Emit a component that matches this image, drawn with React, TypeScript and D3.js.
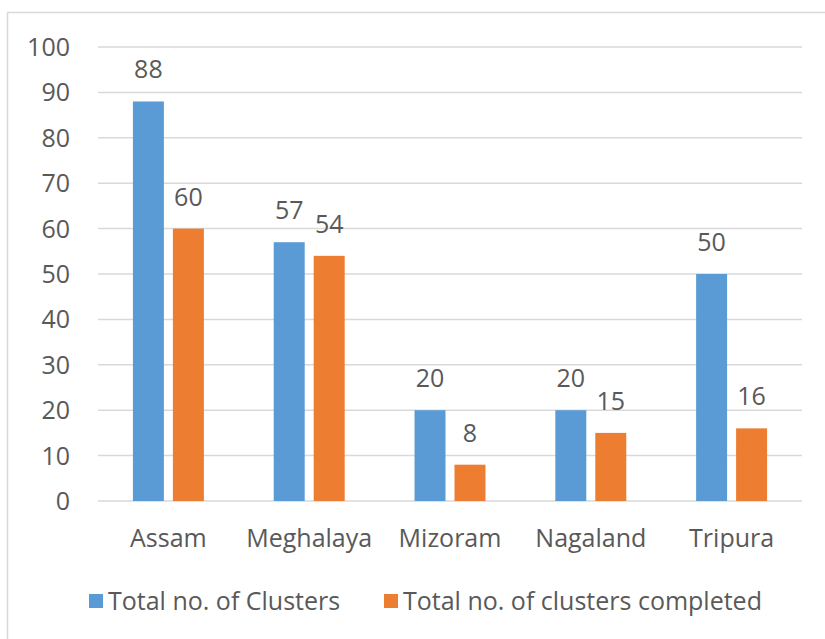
import React from "react";
import * as d3 from "d3";

const categories = ["Assam", "Meghalaya", "Mizoram", "Nagaland", "Tripura"];
const seriesNames = ["Total no. of Clusters", "Total no. of clusters completed"];
const totalClusters = [88, 57, 20, 20, 50];
const clustersCompleted = [60, 54, 8, 15, 16];
const yTicks = [0, 10, 20, 30, 40, 50, 60, 70, 80, 90, 100];
const colors = ["#5B9BD5", "#ED7D31"];

const W = 825;
const H = 639;
const FONT = "'Open Sans', Lato, sans-serif";
const TEXT = "#595959";
const FS = 25;

export default function App() {
  const series = [totalClusters, clustersCompleted];
  const y = d3.scaleLinear().domain([0, 100]).range([501, 47]);
  const x0 = d3
    .scaleBand<string>()
    .domain(categories)
    .range([98, 802])
    .paddingInner(0.496)
    .paddingOuter(0.248);
  const x1 = d3
    .scaleBand<number>()
    .domain([0, 1])
    .range([0, x0.bandwidth()])
    .paddingInner(0.225);

  return (
    <svg
      width={W}
      height={H}
      style={{ position: "absolute", left: 0, top: 0, background: "#fff" }}
      fontFamily={FONT}
    >
      <rect x={7.5} y={12.5} width={W + 20} height={H + 20} fill="#fff" stroke="#D9D9D9" strokeWidth={1.5} />
      {yTicks.map((t) => (
        <g key={t}>
          <line x1={98} x2={802} y1={y(t)} y2={y(t)} stroke="#D9D9D9" strokeWidth={1.5} />
          <text x={70} y={y(t) + 9} textAnchor="end" fontSize={FS} fill={TEXT}>
            {t}
          </text>
        </g>
      ))}
      {categories.map((c, i) => (
        <g key={c} transform={`translate(${x0(c)},0)`}>
          {series.map((s, k) => (
            <g key={k}>
              <rect
                x={x1(k)}
                y={y(s[i])}
                width={x1.bandwidth()}
                height={y(0) - y(s[i])}
                fill={colors[k]}
              />
              <text
                x={(x1(k) as number) + x1.bandwidth() / 2}
                y={y(s[i]) - 23}
                textAnchor="middle"
                fontSize={FS}
                fill={TEXT}
              >
                {s[i]}
              </text>
            </g>
          ))}
          <text x={x0.bandwidth() / 2} y={547} textAnchor="middle" fontSize={FS} fill={TEXT}>
            {c}
          </text>
        </g>
      ))}
      {seriesNames.map((n, k) => {
        const lx = [89, 384][k];
        return (
          <g key={n}>
            <rect x={lx} y={594} width={14} height={14} fill={colors[k]} />
            <text x={lx + 19} y={610} fontSize={FS} fill={TEXT}>
              {n}
            </text>
          </g>
        );
      })}
    </svg>
  );
}
